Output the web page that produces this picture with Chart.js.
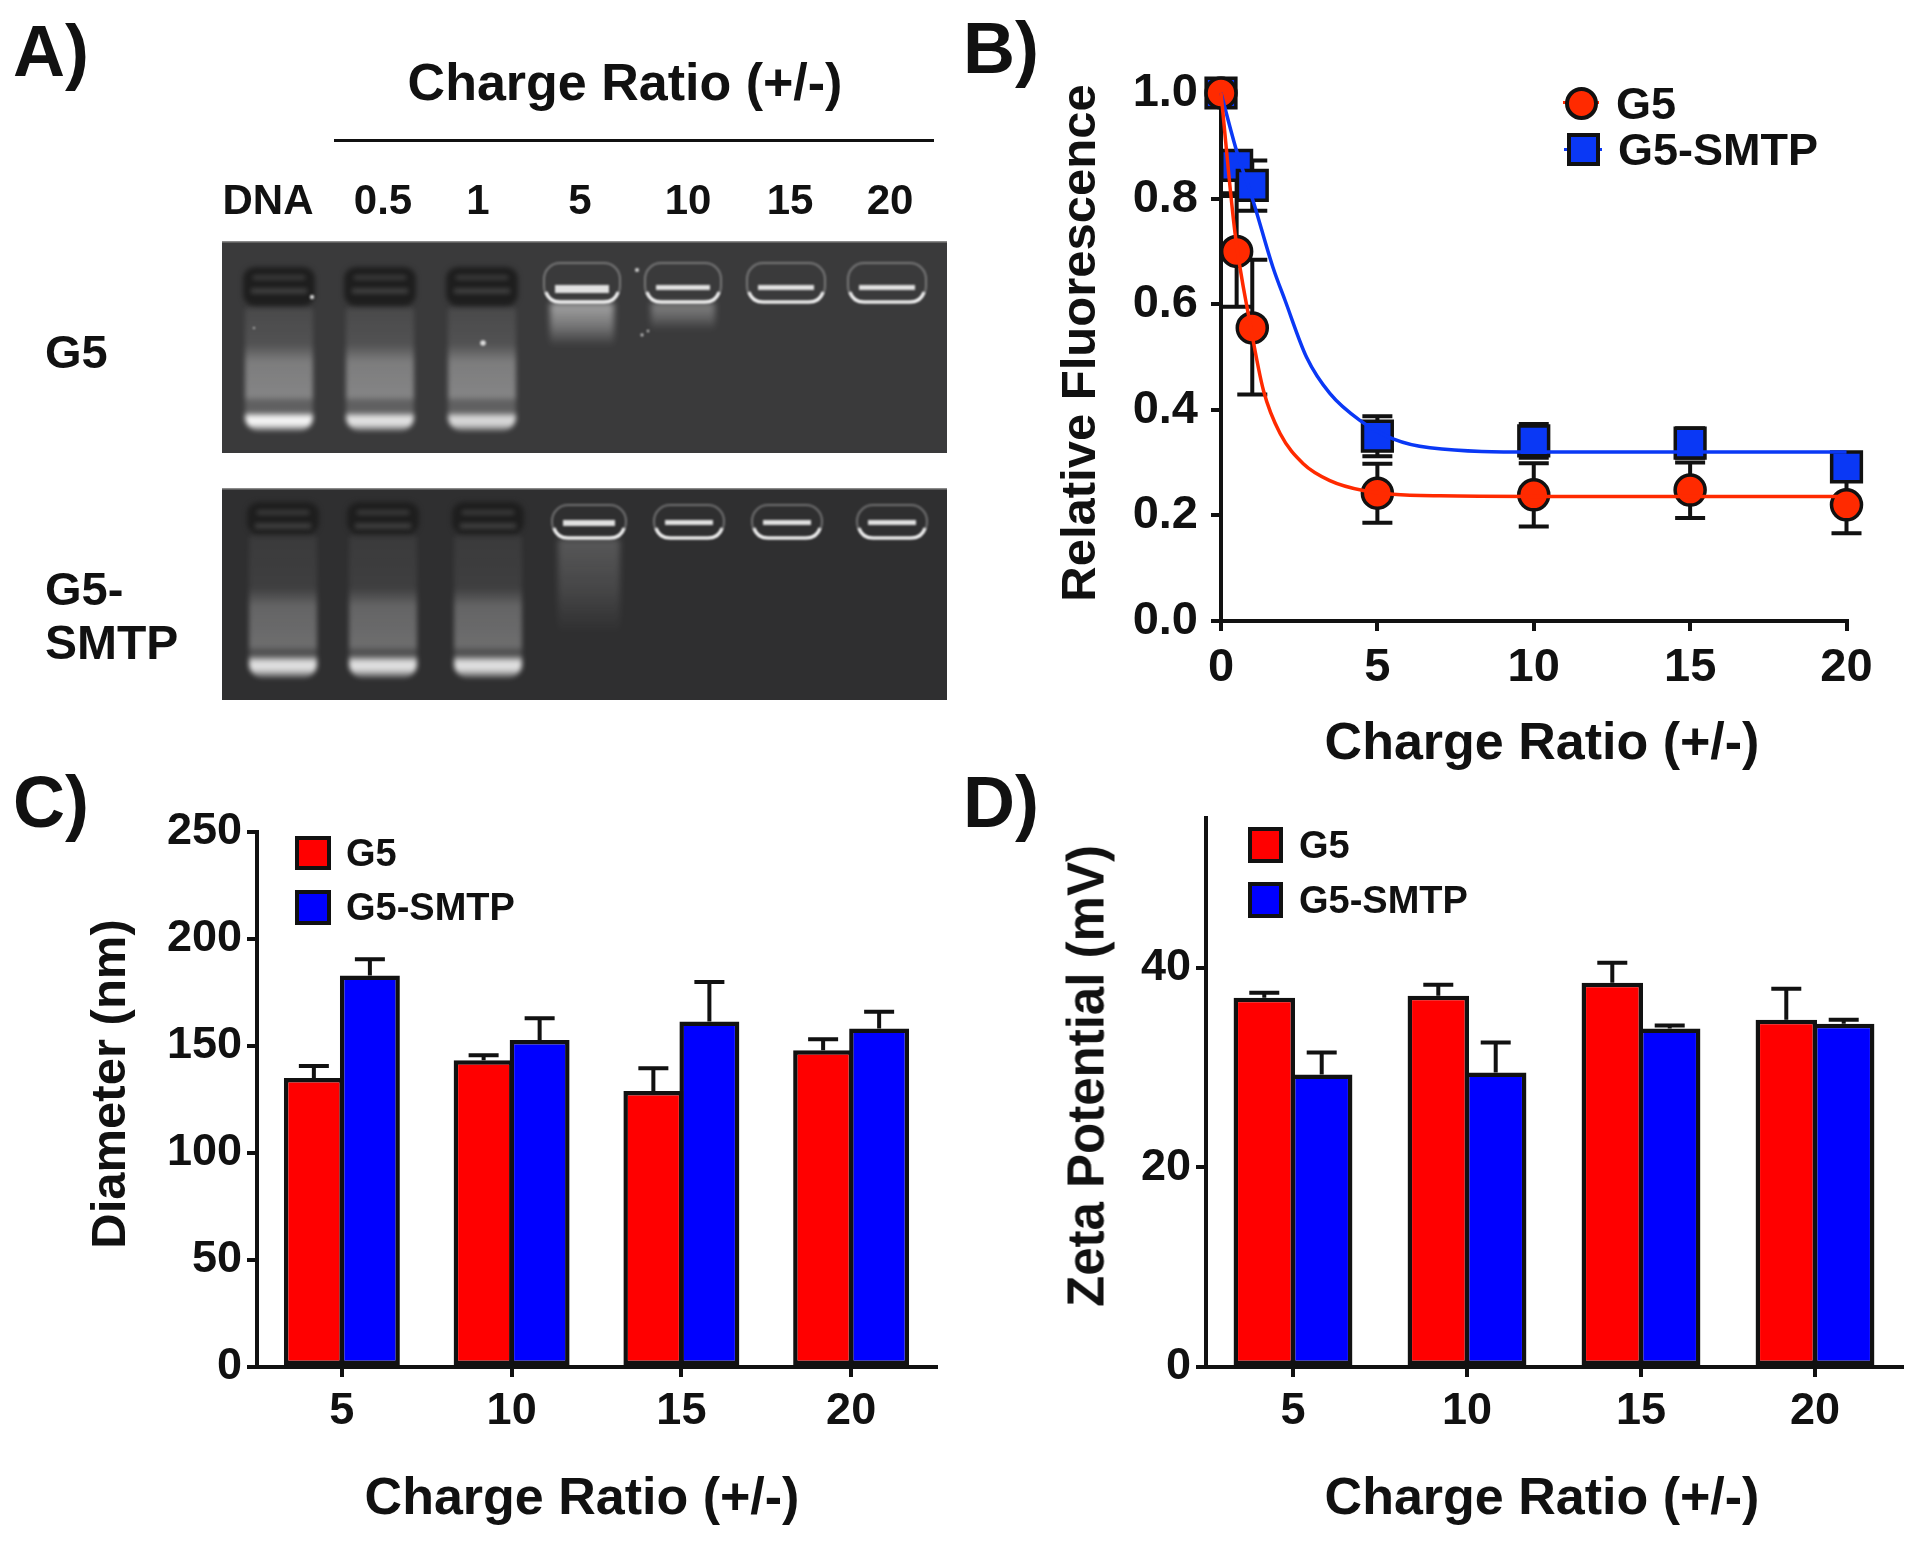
<!DOCTYPE html>
<html>
<head>
<meta charset="utf-8">
<title>G5 and G5-SMTP complexes</title>
<script src="https://cdn.jsdelivr.net/npm/chart.js@4/dist/chart.umd.min.js"></script>
<style>
  html, body { margin: 0; background: #fff; }
  #page { position: relative; width: 1920px; height: 1542px; overflow: hidden; filter: blur(0.6px); }
  #page canvas { position: absolute; }
  .txt { position: absolute; font-family: "Liberation Sans", Arial, sans-serif; font-weight: bold; color: #111; line-height: 1; white-space: nowrap; }
  .box { position: absolute; box-sizing: border-box; border: 4px solid #111; }
</style>
</head>
<body>
<div id="page">
  <canvas id="gel" width="725" height="459" style="left:222px;top:241px"></canvas>
  <canvas id="chartB" width="770" height="652" style="left:1130px;top:48px"></canvas>
  <canvas id="chartC" width="800" height="660" style="left:150px;top:792px"></canvas>
  <canvas id="chartD" width="815" height="660" style="left:1100px;top:778px"></canvas>
</div>
<script>
// Panel A lane headings
const laneLabels = ['DNA', '0.5', '1', '5', '10', '15', '20'];

// Panel B, fluorescence quenching
const chargeRatios = [0, 0.5, 1, 5, 10, 15, 20];
const g5Fluor = [1.0, 0.70, 0.555, 0.242, 0.239, 0.248, 0.22];
const g5FluorHigh = [1.0, 0.805, 0.684, 0.298, 0.299, 0.30, 0.274];
const g5FluorLow = [1.0, 0.595, 0.429, 0.186, 0.179, 0.195, 0.166];
const smtpFluor = [1.0, 0.863, 0.825, 0.35, 0.341, 0.337, 0.292];
const smtpFluorHigh = [1.0, 0.875, 0.872, 0.388, 0.373, 0.365, 0.318];
const smtpFluorLow = [1.0, 0.81, 0.777, 0.312, 0.309, 0.309, 0.266];

// fitted curves
const g5CurveX = [0, 0.45, 0.93, 1.36, 1.89, 2.63, 3.48, 4.55, 5.5, 7, 10, 20];
const g5CurveY = [1.0, 0.734, 0.563, 0.436, 0.355, 0.298, 0.266, 0.247, 0.24, 0.237, 0.236, 0.236];
const smtpCurveX = [0, 0.5, 1.02, 1.66, 2.05, 2.74, 3.48, 4.44, 5.5, 6.68, 10, 20];
const smtpCurveY = [1.0, 0.89, 0.797, 0.67, 0.607, 0.499, 0.431, 0.38, 0.345, 0.328, 0.32, 0.32];

const fluorXTicks = [0, 5, 10, 15, 20];
const fluorYTicks = [0, 0.2, 0.4, 0.6, 0.8, 1.0];

// Panels C and D
const barCategories = ['5', '10', '15', '20'];
const g5Diameter = [135.1, 143.3, 129, 148];
const g5DiameterTop = [140.7, 145.7, 139.6, 153.2];
const smtpDiameter = [182.9, 152.8, 161.4, 158.2];
const smtpDiameterTop = [190.5, 163, 179.9, 166];
const diameterTicks = [0, 50, 100, 150, 200, 250];

const g5Zeta = [37, 37.2, 38.5, 34.8];
const g5ZetaTop = [37.5, 38.3, 40.5, 37.9];
const smtpZeta = [29.3, 29.5, 33.9, 34.4];
const smtpZetaTop = [31.5, 32.5, 34.2, 34.8];
const zetaTicks = [0, 20, 40];

const INK = '#111';
const RED = '#ff0000';
const BLUE = '#0000ff';
const MARK_RED = '#ff2a00';
const MARK_BLUE = '#0a38f5';
const FONT = '"Liberation Sans", Arial, sans-serif';

const page = document.getElementById('page');

function addText(text, x, y, size, opts = {}) {
  const el = document.createElement('div');
  el.className = 'txt';
  el.textContent = text;
  el.style.left = x + 'px';
  el.style.top = y + 'px';
  el.style.fontSize = size + 'px';
  const shift = opts.left ? 'translate(0,-50%)' : 'translate(-50%,-50%)';
  el.style.transform = shift + (opts.rotate ? ' rotate(-90deg)' : '');
  page.appendChild(el);
}

function addBox(x, y, w, h, color, radius) {
  const el = document.createElement('div');
  el.className = 'box';
  el.style.cssText = `left:${x}px;top:${y}px;width:${w}px;height:${h}px;background:${color};border-radius:${radius || 0}px`;
  page.appendChild(el);
}

// draws the error bars under the marks, from the errorHigh/errorLow arrays on each dataset
const errorBars = {
  id: 'errorBars',
  beforeDatasetsDraw(chart) {
    const ctx = chart.ctx;
    const yScale = chart.scales.y;
    ctx.save();
    ctx.strokeStyle = INK;
    ctx.lineWidth = 4;
    chart.data.datasets.forEach((ds, i) => {
      if (!ds.errorHigh) return;
      chart.getDatasetMeta(i).data.forEach((pt, j) => {
        const high = yScale.getPixelForValue(ds.errorHigh[j]);
        const low = yScale.getPixelForValue(ds.errorLow ? ds.errorLow[j] : ds.errorHigh[j]);
        const mid = ds.errorLow ? low : yScale.getPixelForValue(ds.data[j].y ?? ds.data[j]);
        if (Math.abs(high - mid) < 0.5) return;
        ctx.beginPath();
        ctx.moveTo(pt.x, mid);
        ctx.lineTo(pt.x, high);
        ctx.moveTo(pt.x - 15, high);
        ctx.lineTo(pt.x + 15, high);
        if (ds.errorLow) {
          ctx.moveTo(pt.x - 15, low);
          ctx.lineTo(pt.x + 15, low);
        }
        ctx.stroke();
      });
    });
    ctx.restore();
  }
};

function axisStyle(size, boxSize, tickValues, tickPadding) {
  return {
    grid: { drawOnChartArea: false, color: INK, lineWidth: 4, tickLength: 10, offset: false },
    border: { color: INK, width: 4 },
    ticks: { color: INK, font: { family: FONT, size, weight: 'bold' }, padding: tickPadding, maxRotation: 0, autoSkip: false },
    afterBuildTicks: tickValues ? (s) => { s.ticks = tickValues.map(v => ({ value: v })); } : undefined,
    afterFit: (s) => {
      if (s.isHorizontal()) s.height = boxSize; else s.width = boxSize;
    }
  };
}

function toPoints(xs, ys) {
  return xs.map((x, i) => ({ x, y: ys[i] }));
}

// Panel B
new Chart(document.getElementById('chartB'), {
  type: 'scatter',
  data: {
    datasets: [
      { label: 'G5 fit', data: toPoints(g5CurveX, g5CurveY), showLine: true, pointRadius: 0, borderColor: MARK_RED, borderWidth: 3.5, cubicInterpolationMode: 'monotone', order: 0, clip: false },
      { label: 'G5-SMTP fit', data: toPoints(smtpCurveX, smtpCurveY), showLine: true, pointRadius: 0, borderColor: MARK_BLUE, borderWidth: 3.5, cubicInterpolationMode: 'monotone', order: 1, clip: false },
      { label: 'G5', data: toPoints(chargeRatios, g5Fluor), errorHigh: g5FluorHigh, errorLow: g5FluorLow, pointStyle: 'circle', pointRadius: 15, pointBorderWidth: 3.5, pointBackgroundColor: MARK_RED, pointBorderColor: INK, order: 2, clip: false },
      { label: 'G5-SMTP', data: toPoints(chargeRatios, smtpFluor), errorHigh: smtpFluorHigh, errorLow: smtpFluorLow, pointStyle: 'rect', pointRadius: 21, pointBorderWidth: 3.5, pointBackgroundColor: MARK_BLUE, pointBorderColor: INK, order: 3, clip: false }
    ]
  },
  options: {
    responsive: false,
    animation: false,
    layout: { padding: { top: 45, right: 53.5, bottom: 19, left: 0 } },
    plugins: { legend: { display: false }, tooltip: { enabled: false } },
    scales: {
      x: { type: 'linear', min: 0, max: 20, ...axisStyle(47, 60, fluorXTicks, 9) },
      y: {
        min: 0, max: 1,
        ...axisStyle(47, 91, fluorYTicks, 13),
        ticks: { ...axisStyle(47, 91, null, 13).ticks, callback: v => v.toFixed(1) }
      }
    }
  },
  plugins: [errorBars]
});

function barChart(id, g5, g5Top, smtp, smtpTop, yTicks, yMax, padding, yWidth) {
  return new Chart(document.getElementById(id), {
    type: 'bar',
    data: {
      labels: barCategories,
      datasets: [
        { label: 'G5', data: g5, errorHigh: g5Top, backgroundColor: RED, borderColor: INK, borderWidth: 4.5, borderSkipped: false },
        { label: 'G5-SMTP', data: smtp, errorHigh: smtpTop, backgroundColor: BLUE, borderColor: INK, borderWidth: 4.5, borderSkipped: false }
      ]
    },
    options: {
      responsive: false,
      animation: false,
      layout: { padding },
      datasets: { bar: { categoryPercentage: 0.66, barPercentage: 1.07 } },
      plugins: { legend: { display: false }, tooltip: { enabled: false } },
      scales: {
        x: axisStyle(45, 60, null, 8),
        y: { min: 0, max: yMax, ...axisStyle(45, yWidth, yTicks, 5) }
      }
    },
    plugins: [errorBars]
  });
}

barChart('chartC', g5Diameter, g5DiameterTop, smtpDiameter, smtpDiameterTop, diameterTicks, 250,
  { top: 40, right: 14, bottom: 25, left: 0 }, 107);
barChart('chartD', g5Zeta, g5ZetaTop, smtpZeta, smtpZetaTop, zetaTicks, 55,
  { top: 40, right: 13, bottom: 11, left: 0 }, 106);

// Text and legends
addText('A)', 13, 51, 72, { left: true });
addText('B)', 963, 48, 72, { left: true });
addText('C)', 13, 802, 72, { left: true });
addText('D)', 963, 802, 72, { left: true });

addText('Charge Ratio (+/-)', 625, 82, 52);
const rule = document.createElement('div');
rule.style.cssText = 'position:absolute;left:334px;top:139px;width:600px;height:3px;background:#111';
page.appendChild(rule);
const laneLabelX = [268, 383, 478, 580, 688, 790, 890];
laneLabels.forEach((t, i) => addText(t, laneLabelX[i], 200, 42));
addText('G5', 45, 351, 47, { left: true });
addText('G5-', 45, 588, 47, { left: true });
addText('SMTP', 45, 643, 48, { left: true });

addText('Relative Fluorescence', 1078, 343, 49, { rotate: true });
addText('Charge Ratio (+/-)', 1542, 741, 52);
addText('Diameter (nm)', 108, 1084, 49, { rotate: true });
addText('Charge Ratio (+/-)', 582, 1496, 52);
addText('Zeta Potential (mV)', 1086, 1076, 51, { rotate: true });
addText('Charge Ratio (+/-)', 1542, 1496, 52);

const fitRed = document.createElement('div');
fitRed.style.cssText = `position:absolute;left:1563px;top:101px;width:36px;height:3px;background:${MARK_RED}`;
page.appendChild(fitRed);
const fitBlue = document.createElement('div');
fitBlue.style.cssText = `position:absolute;left:1564px;top:148px;width:38px;height:3px;background:${MARK_BLUE}`;
page.appendChild(fitBlue);
addBox(1565, 87, 33, 33, MARK_RED, 17);
addBox(1567, 133, 33, 33, MARK_BLUE);
addText('G5', 1616, 103, 45, { left: true });
addText('G5-SMTP', 1618, 149, 45, { left: true });

addBox(295, 836, 36, 34, RED);
addBox(295, 890, 36, 35, BLUE);
addText('G5', 346, 853, 38, { left: true });
addText('G5-SMTP', 346, 907, 38, { left: true });

addBox(1248, 827, 35, 36, RED);
addBox(1248, 882, 35, 36, BLUE);
addText('G5', 1299, 845, 38, { left: true });
addText('G5-SMTP', 1299, 900, 38, { left: true });

// Panel A is a gel photograph, so it is painted by hand on its own canvas
const gelCtx = document.getElementById('gel').getContext('2d');
const GEL_LEFT = 222;
const GEL_TOP = 241;

function roundBox(ctx, x, y, w, h, r) {
  ctx.beginPath();
  ctx.roundRect(x - GEL_LEFT, y - GEL_TOP, w, h, r);
}

function drawDnaLane(ctx, cx, g, peak) {
  const w = 68;
  const x = cx - w / 2;
  // dark well with two faint lines
  ctx.filter = 'blur(2.5px)';
  ctx.fillStyle = '#1e1e1e';
  roundBox(ctx, x - 2, g.wellTop, w + 4, g.wellBot - g.wellTop, 12);
  ctx.fill();
  ctx.fillStyle = 'rgba(255,255,255,0.2)';
  ctx.fillRect(x + 8 - GEL_LEFT, g.wellTop + 9 - GEL_TOP, w - 16, 3);
  ctx.fillRect(x + 6 - GEL_LEFT, g.wellTop + 22 - GEL_TOP, w - 12, 4);

  // smear and bands
  const top = g.wellBot + 2;
  const span = g.peakBot - top;
  const at = y => Math.min(1, Math.max(0, (y - top) / span));
  const grad = ctx.createLinearGradient(0, top - GEL_TOP, 0, g.peakBot - GEL_TOP);
  grad.addColorStop(0, `rgba(255,255,255,${g.smear * 0.7})`);
  grad.addColorStop(at(g.bandTop - 18), `rgba(255,255,255,${g.smear})`);
  grad.addColorStop(at(g.bandTop), `rgba(255,255,255,${g.band})`);
  grad.addColorStop(at(g.bandBot - 4), `rgba(255,255,255,${g.band + 0.04})`);
  grad.addColorStop(at(g.bandBot + 2), `rgba(255,255,255,${g.band * 0.55})`);
  grad.addColorStop(at(g.peakTop), `rgba(255,255,255,${g.band * 0.6})`);
  grad.addColorStop(at(g.peakMid - 4), `rgba(255,255,255,${peak})`);
  grad.addColorStop(at(g.peakMid + 3), `rgba(255,255,255,${peak})`);
  grad.addColorStop(1, `rgba(255,255,255,${g.band * 0.7})`);
  ctx.fillStyle = grad;
  roundBox(ctx, x, top, w, span, [2, 2, 14, 14]);
  ctx.fill();
}

function drawWell(ctx, cx, g, w, smearEnd, smearAlpha, coreHeight) {
  const x = cx - w / 2;
  ctx.filter = 'blur(1.2px)';
  ctx.strokeStyle = 'rgba(255,255,255,0.32)';
  ctx.lineWidth = 2;
  roundBox(ctx, x, g.openTop, w, g.openBot - g.openTop, 16);
  ctx.stroke();
  ctx.strokeStyle = 'rgba(255,255,255,0.95)';
  ctx.lineWidth = 3;
  ctx.beginPath();
  ctx.moveTo(x + 2 - GEL_LEFT, g.openBot - 10 - GEL_TOP);
  ctx.quadraticCurveTo(x + 5 - GEL_LEFT, g.openBot - GEL_TOP, x + 16 - GEL_LEFT, g.openBot - GEL_TOP);
  ctx.lineTo(x + w - 16 - GEL_LEFT, g.openBot - GEL_TOP);
  ctx.quadraticCurveTo(x + w - 5 - GEL_LEFT, g.openBot - GEL_TOP, x + w - 2 - GEL_LEFT, g.openBot - 10 - GEL_TOP);
  ctx.stroke();
  ctx.fillStyle = 'rgba(255,255,255,0.85)';
  ctx.fillRect(x + 11 - GEL_LEFT, g.core - GEL_TOP, w - 22, coreHeight);

  if (smearEnd) {
    ctx.filter = 'blur(3px)';
    const grad = ctx.createLinearGradient(0, g.openBot - GEL_TOP, 0, smearEnd - GEL_TOP);
    grad.addColorStop(0, `rgba(255,255,255,${smearAlpha})`);
    grad.addColorStop(0.55, `rgba(255,255,255,${smearAlpha * 0.55})`);
    grad.addColorStop(1, 'rgba(255,255,255,0)');
    ctx.fillStyle = grad;
    ctx.fillRect(x + 6 - GEL_LEFT, g.openBot + 1 - GEL_TOP, w - 12, smearEnd - g.openBot);
  }
}

function drawGel(ctx, g) {
  ctx.filter = 'none';
  ctx.fillStyle = g.bg;
  ctx.fillRect(0, g.top - GEL_TOP, 725, g.bot - g.top);
  ctx.fillStyle = '#8a8a8a';
  ctx.fillRect(0, g.top - GEL_TOP, 725, 1.5);
  g.dnaLanes.forEach((cx, i) => drawDnaLane(ctx, cx, g, g.peaks[i]));
  g.wellLanes.forEach((cx, i) => drawWell(ctx, cx, g, g.wellWidths[i], g.smearEnds[i], g.smearAlpha[i], g.coreHeights[i]));
  ctx.filter = 'blur(0.8px)';
  ctx.fillStyle = 'rgba(255,255,255,0.8)';
  g.specks.forEach(([x, y, r]) => {
    ctx.beginPath();
    ctx.arc(x - GEL_LEFT, y - GEL_TOP, r, 0, Math.PI * 2);
    ctx.fill();
  });
  ctx.filter = 'none';
}

drawGel(gelCtx, {
  top: 241, bot: 453, bg: '#3a3a3b',
  wellTop: 267, wellBot: 306, bandTop: 362, bandBot: 400, peakTop: 412, peakMid: 421, peakBot: 431,
  smear: 0.12, band: 0.34,
  dnaLanes: [279, 380, 482], peaks: [0.95, 0.85, 0.8],
  openTop: 263, openBot: 302, core: 285,
  wellLanes: [582, 683, 786, 887], wellWidths: [76, 76, 78, 78], coreHeights: [8, 5, 5, 5],
  smearEnds: [346, 330, 0, 0], smearAlpha: [0.55, 0.38, 0, 0],
  specks: [[483, 343, 2.8], [312, 297, 2.2], [637, 270, 2], [642, 335, 1.4], [648, 331, 1.2], [254, 328, 1]]
});
drawGel(gelCtx, {
  top: 488, bot: 700, bg: '#2f2f30',
  wellTop: 502, wellBot: 534, bandTop: 606, bandBot: 650, peakTop: 655, peakMid: 666, peakBot: 678,
  smear: 0.08, band: 0.26,
  dnaLanes: [283, 383, 488], peaks: [0.85, 0.85, 0.85],
  openTop: 505, openBot: 538, core: 520,
  wellLanes: [589, 689, 787, 892], wellWidths: [74, 70, 70, 70], coreHeights: [6, 5, 5, 5],
  smearEnds: [634, 0, 0, 0], smearAlpha: [0.2, 0, 0, 0],
  specks: []
});
</script>
</body>
</html>
